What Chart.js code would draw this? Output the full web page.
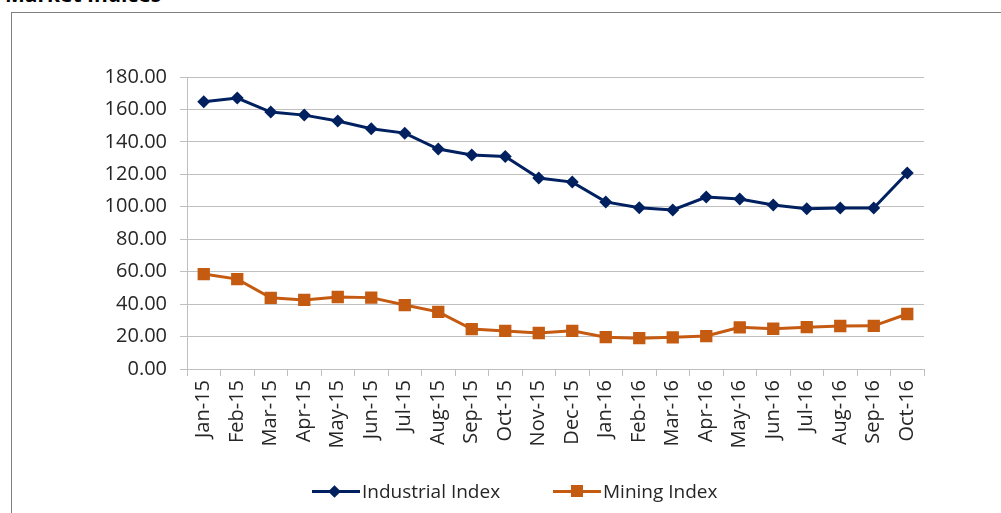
<!DOCTYPE html>
<html><head><meta charset="utf-8">
<script src="https://cdn.jsdelivr.net/npm/chart.js@4"></script>
<style>
html,body{margin:0;padding:0;background:#fff;width:1001px;height:513px;overflow:hidden;position:relative;font-family:"Open Sans",sans-serif;}
#title{position:absolute;left:5px;top:-16px;font-weight:bold;font-size:21px;line-height:20px;color:#000;white-space:nowrap;}
#frame{position:absolute;left:11px;top:12px;width:1200px;height:700px;border:1px solid #7f7f7f;}
#wrap{position:absolute;left:0;top:0;width:1001px;height:513px;}
#legend{position:absolute;top:478px;left:0;width:1001px;height:26px;font-size:19px;color:#262626;}
.item{position:absolute;top:0;height:26px;line-height:26px;white-space:nowrap;}
.sw{position:absolute;top:12px;left:0;width:48px;height:3px;}
.mk{position:absolute;}
.lbl{position:absolute;left:50px;top:0;}
</style></head>
<body>
<div id="title">Market Indices</div>
<div id="frame"></div>
<div id="wrap"><canvas id="c" width="1001" height="513"></canvas></div>
<div id="legend">
  <div class="item" style="left:312px;"><div class="sw" style="background:#002060"></div><div class="mk" style="left:18px;width:9px;height:9px;background:#002060;transform:rotate(45deg);top:9px;"></div><span class="lbl">Industrial Index</span></div>
  <div class="item" style="left:553px;"><div class="sw" style="background:#C55A11"></div><div class="mk" style="left:18px;top:7px;width:12px;height:12px;background:#C55A11;"></div><span class="lbl">Mining Index</span></div>
</div>
<script>
const categories = ["Jan-15","Feb-15","Mar-15","Apr-15","May-15","Jun-15","Jul-15","Aug-15","Sep-15","Oct-15","Nov-15","Dec-15","Jan-16","Feb-16","Mar-16","Apr-16","May-16","Jun-16","Jul-16","Aug-16","Sep-16","Oct-16"];
const industrialIndex = [164.8,167.0,158.4,156.5,152.9,148.1,145.4,135.6,131.9,131.0,117.7,115.2,103.0,99.4,98.0,106.0,104.8,101.1,98.8,99.3,99.2,120.8];
const miningIndex = [58.5,55.4,43.9,42.6,44.4,44.0,39.4,35.2,24.6,23.5,22.2,23.5,19.6,19.0,19.5,20.3,25.7,24.8,25.8,26.5,26.6,33.9];
const yTicks = {min:0, max:180, step:20};

const gridColor = '#BFBFBF';
new Chart(document.getElementById('c'), {
  type: 'line',
  data: {
    labels: categories,
    datasets: [
      {label:'Industrial Index', data: industrialIndex, borderColor:'#002060', backgroundColor:'#002060', borderWidth:3, pointStyle:'rectRot', pointRadius:6.5, pointBorderWidth:0, tension:0},
      {label:'Mining Index', data: miningIndex, borderColor:'#C55A11', backgroundColor:'#C55A11', borderWidth:3, pointStyle:'rect', pointRadius:8.7, pointBorderWidth:0, tension:0}
    ]
  },
  options: {
    responsive:false, animation:false, devicePixelRatio:1,
    layout:{padding:{top:77,right:77,bottom:0,left:0}},
    plugins:{legend:{display:false}, tooltip:{enabled:false}},
    scales:{
      x:{
        offset:true,
        grid:{offset:true, drawOnChartArea:false, drawTicks:true, tickLength:7, color:gridColor, lineWidth:1},
        border:{display:true, color:gridColor, width:1},
        ticks:{minRotation:90, maxRotation:90, autoSkip:false, color:'#262626', font:{family:'Open Sans', size:20}, padding:4},
        afterFit: s => { s.height = 144; }
      },
      y:{
        min:yTicks.min, max:yTicks.max,
        grid:{color:gridColor, lineWidth:1, tickLength:7, drawTicks:true},
        border:{display:true, color:gridColor, width:1},
        ticks:{stepSize:yTicks.step, color:'#262626', font:{family:'Open Sans', size:20}, padding:13, callback:v=>Number(v).toFixed(2)},
        afterFit: s => { s.width = 187; }
      }
    }
  }
});
</script>
</body></html>
